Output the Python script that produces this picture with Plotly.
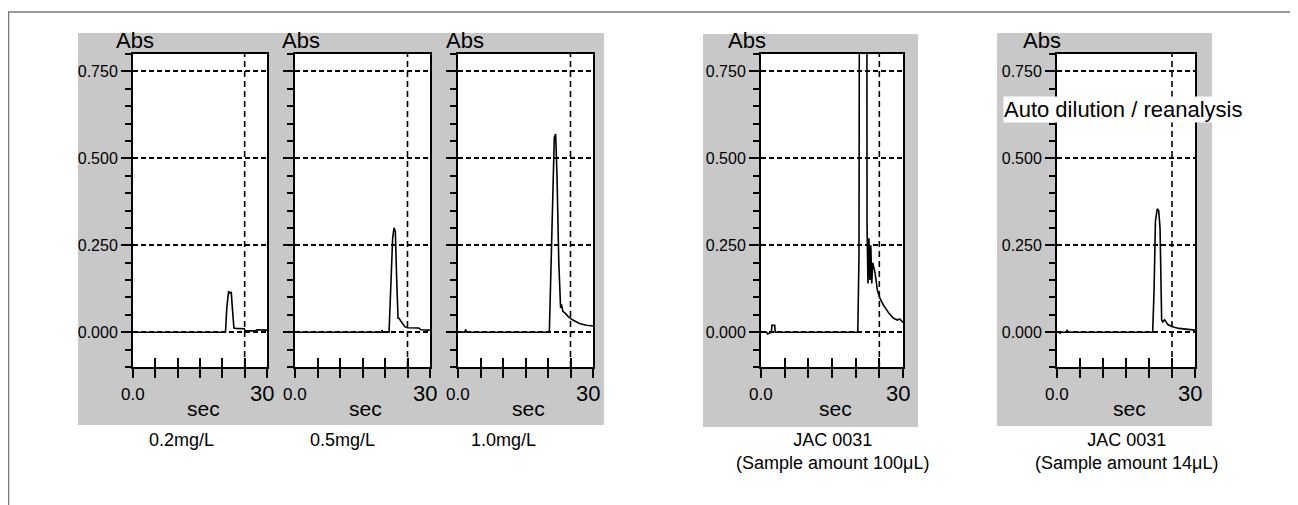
import plotly.graph_objects as go

# page body has an 8px margin: figure is sized to fill the rest of the 1298x505 window
OFF = 8
W, H = 1298 - OFF, 505 - OFF

# ---------------- data ----------------
panel_labels = ["0.2mg/L", "0.5mg/L", "1.0mg/L",
                "JAC 0031<br>(Sample amount 100μL)",
                "JAC 0031<br>(Sample amount 14μL)"]

t_02 = [0, 20.7, 21.0, 21.4, 21.7, 22.0, 22.3, 22.6, 23.0, 24.9, 25.1, 27.5, 27.8, 29.0, 30.0]
abs_02 = [0, 0, 0.07, 0.118, 0.112, 0.114, 0.06, 0.012, 0.011, 0.010, 0.004, 0.004, 0.007, 0.006, 0.006]

t_05 = [0, 19.2, 19.35, 19.5, 20.9, 21.3, 21.7, 22.0, 22.3, 22.6, 22.9, 23.1, 23.4, 23.8, 24.4, 25.0, 27.5, 28.0, 30.0]
abs_05 = [0, 0, 0.006, 0, 0, 0.15, 0.27, 0.30, 0.29, 0.15, 0.04, 0.04, 0.034, 0.025, 0.016, 0.013, 0.012, 0.007, 0.006]

t_10 = [0, 1.5, 1.7, 1.9, 20.3, 20.7, 21.1, 21.4, 21.7, 22.0, 22.4, 22.8, 23.0, 23.3, 23.8, 24.5, 25.5, 27.0, 28.5, 30.0]
abs_10 = [0, 0, 0.008, 0, 0, 0.2, 0.45, 0.56, 0.57, 0.45, 0.2, 0.07, 0.08, 0.06, 0.055, 0.045, 0.035, 0.025, 0.02, 0.018]

t_jac100 = [0, 1.2, 1.4, 2.2, 2.3, 2.9, 3.0, 20.45, 20.7, 20.85, 22.35, 22.4, 22.6, 22.8, 23.0, 23.2,
            23.4, 23.6, 24.1, 24.6, 25.2, 26.0, 27.0, 28.0, 28.8, 29.3, 30.0]
abs_jac100 = [0, 0, -0.005, 0, 0.02, 0.02, 0, 0, 0.22, 1.5, 1.5, 0.31, 0.14, 0.27, 0.15, 0.25,
              0.14, 0.2, 0.17, 0.12, 0.095, 0.075, 0.055, 0.04, 0.035, 0.038, 0.028]

t_jac14 = [0, 0.5, 0.6, 0.8, 2.0, 2.2, 2.5, 20.8, 21.1, 21.4, 21.8, 22.1, 22.4, 22.6, 22.75, 23.0,
           23.4, 24.1, 25.1, 26.5, 28.0, 29.4, 30.0]
abs_jac14 = [0, 0, -0.004, 0, 0, 0.005, 0, 0, 0.12, 0.32, 0.355, 0.35, 0.30, 0.17, 0.036, 0.03,
             0.036, 0.022, 0.016, 0.011, 0.009, 0.007, 0.006]

series_t = [t_02, t_05, t_10, t_jac100, t_jac14]
series_abs = [abs_02, abs_05, abs_10, abs_jac100, abs_jac14]

x_range = [0, 30]
y_range = [-0.1, 0.8]
y_major_step = 0.25
y_minor_step = 0.05
x_tick_step = 5
x_tick_labels = ["0.0", "30"]
y_title = "Abs"
x_title = "sec"
marker_time = 25
note_text = "Auto dilution / reanalysis"
show_y_labels = [True, False, False, True, True]

# ---------------- layout geometry (window pixels) ----------------
plot_lr = [(133, 267), (295, 430), (458, 593), (761, 903), (1057, 1195)]
plot_top, plot_bot = 54, 367
abs_dx = [2, 6, 7, -14, -15]
label_cx = [181, 342, 503, 832, 1126]
label_cy = [440, 440, 440, 451, 451]
gray_boxes = [(78, 33, 604, 425), (703, 34, 918, 427), (997, 33, 1212, 426)]

FONT = "Liberation Sans, Arial, sans-serif"


def px(x):
    return (x - OFF) / W


def py(y):
    return 1 - (y - OFF) / H


fig = go.Figure()
layout = dict(
    width=W, height=H,
    margin=dict(l=0, r=0, t=0, b=0),
    paper_bgcolor="white",
    plot_bgcolor="rgba(0,0,0,0)",
    showlegend=False,
    font=dict(family=FONT, color="black", size=17),
)
shapes = []
annotations = []

# outer frame
shapes.append(dict(type="line", xref="paper", yref="paper", x0=px(8), x1=1.0, y0=py(12), y1=py(12),
                   line=dict(color="#777777", width=1.5), layer="below"))
shapes.append(dict(type="line", xref="paper", yref="paper", x0=px(8.5), x1=px(8.5), y0=py(12), y1=0,
                   line=dict(color="#777777", width=1.5), layer="below"))
# gray panel backgrounds
for (gx0, gy0, gx1, gy1) in gray_boxes:
    shapes.append(dict(type="rect", xref="paper", yref="paper", x0=px(gx0), x1=px(gx1),
                       y0=py(gy1), y1=py(gy0), fillcolor="#c8c8c8", line=dict(width=0), layer="below"))
# white plot areas
for (l, r) in plot_lr:
    shapes.append(dict(type="rect", xref="paper", yref="paper", x0=px(l), x1=px(r),
                       y0=py(plot_bot), y1=py(plot_top), fillcolor="white", line=dict(width=0), layer="below"))

for i in range(5):
    n = i + 1
    sfx = "" if n == 1 else str(n)
    ov = str(n + 5)
    l, r = plot_lr[i]
    xdom = [px(l), px(r)]
    ydom = [py(plot_bot), py(plot_top)]

    layout["xaxis" + sfx] = dict(
        domain=xdom, range=x_range, anchor="y" + sfx,
        showline=True, linecolor="black", linewidth=2, mirror=True,
        ticks="inside", tick0=0, dtick=x_tick_step, ticklen=9, tickwidth=1.5, tickcolor="black",
        showticklabels=False, showgrid=False, zeroline=False, fixedrange=True,
    )
    layout["xaxis" + ov] = dict(
        overlaying="x" + sfx, range=x_range, anchor="y" + sfx,
        showline=False, ticks="outside", tick0=0, dtick=x_tick_step, ticklen=10, tickwidth=1.5,
        tickcolor="black", showticklabels=False, showgrid=False, zeroline=False, fixedrange=True,
    )
    layout["yaxis" + sfx] = dict(
        domain=ydom, range=y_range, anchor="x" + sfx,
        showline=True, linecolor="black", linewidth=2, mirror=True,
        ticks="outside", tick0=0, dtick=y_major_step, ticklen=10, tickwidth=1.5, tickcolor="black",
        minor=dict(ticks="outside", tick0=0, dtick=y_minor_step, ticklen=6, tickwidth=1.5,
                   tickcolor="black", showgrid=False),
        showticklabels=show_y_labels[i], tickformat=".3f",
        tickfont=dict(family=FONT, size=16, color="black"),
        showgrid=True, gridcolor="black", gridwidth=2, griddash="5px,3px",
        zeroline=False, fixedrange=True,
    )

    fig.add_trace(go.Scatter(x=series_t[i], y=series_abs[i], mode="lines",
                             line=dict(color="black", width=1.6),
                             xaxis="x" + sfx, yaxis="y" + sfx, hoverinfo="skip"))
    fig.add_trace(go.Scatter(x=[], y=[], mode="lines", xaxis="x" + ov, yaxis="y" + sfx,
                             hoverinfo="skip"))

    # vertical dashed marker line
    shapes.append(dict(type="line", xref="x" + sfx, yref="y" + sfx + " domain",
                       x0=marker_time, x1=marker_time, y0=0, y1=1,
                       line=dict(color="black", width=1.6, dash="6px,4px"), layer="above"))

    # texts
    annotations.append(dict(text=y_title, xref="paper", yref="paper",
                            x=px(l + abs_dx[i]), y=py(plot_top), xanchor="center", yanchor="bottom",
                            showarrow=False, borderpad=0, font=dict(family=FONT, size=22)))
    annotations.append(dict(text=x_tick_labels[0], xref="x" + sfx, yref="paper",
                            x=x_range[0], y=py(394), xanchor="center", yanchor="middle",
                            showarrow=False, font=dict(family=FONT, size=17)))
    annotations.append(dict(text=x_tick_labels[1], xref="x" + sfx, yref="paper",
                            x=x_range[1], xshift=-5, y=py(393), xanchor="center", yanchor="middle",
                            showarrow=False, font=dict(family=FONT, size=22)))
    annotations.append(dict(text=x_title, xref="paper", yref="paper",
                            x=px((l + r) / 2 + 3), y=py(408), xanchor="center", yanchor="middle",
                            showarrow=False, font=dict(family=FONT, size=21)))
    annotations.append(dict(text=panel_labels[i], xref="paper", yref="paper",
                            x=px(label_cx[i]), y=py(label_cy[i]), xanchor="center", yanchor="middle",
                            showarrow=False, font=dict(family=FONT, size=18)))

annotations.append(dict(text=note_text, xref="paper", yref="paper",
                        x=px(1003), y=py(109), xanchor="left", yanchor="middle",
                        showarrow=False, bgcolor="white", borderpad=0,
                        font=dict(family=FONT, size=22)))

layout["shapes"] = shapes
layout["annotations"] = annotations
fig.update_layout(**layout)
fig.write_html("out.html")
